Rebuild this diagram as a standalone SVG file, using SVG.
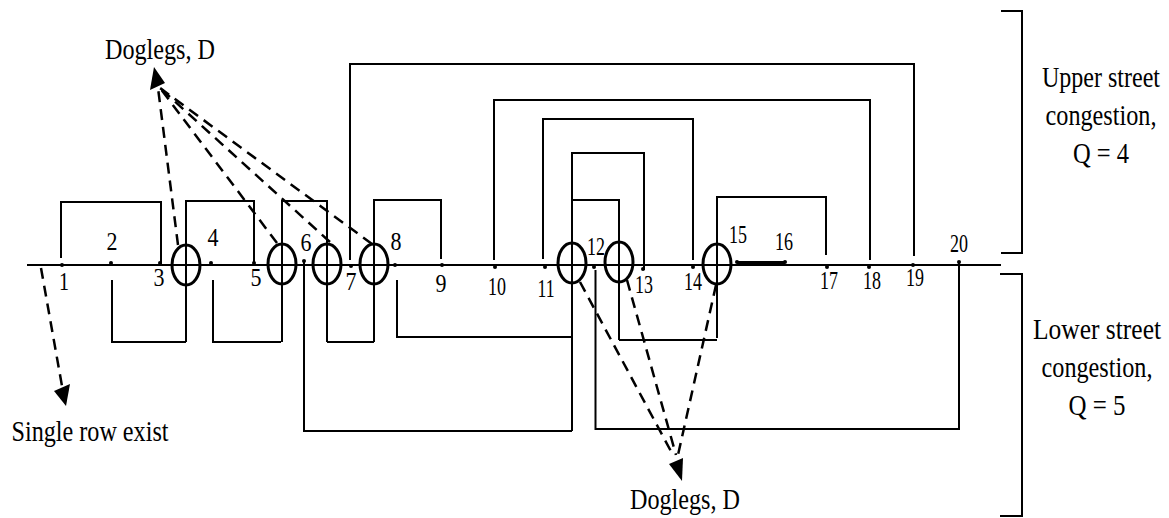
<svg xmlns="http://www.w3.org/2000/svg" width="1169" height="518" viewBox="0 0 1169 518">
<style>
.w{fill:none;stroke:#000;stroke-width:2}
.d{fill:none;stroke:#000;stroke-width:2.500;stroke-dasharray:11 7}
.c{fill:none;stroke:#000;stroke-width:3}
.p{fill:#000}
text{font-family:"Liberation Serif",serif;fill:#000}
.n{font-size:25px;text-anchor:middle}
.l{font-size:29px;text-anchor:middle}
</style>
<rect width="1169" height="518" fill="#fff"/>
<g id="connectors">
<path class="w" d="M27 265H1001"/>
<path class="w" d="M61 258V202H161V264M186 342V201H254V264M282 342V201H327V342M350 260V64H914V256M374 342V200H441V259M494 260V100H870V260M543 259V119H693V260M572 431V153H644V270M572 200H619V340M717 338V197H826V255"/>
<path class="w" d="M112 280V342H186M213 280V342H281M327 342H374M397 280V337H572M304 261V431H572M595.500 270V429H959V262M619 340H717"/>
<path d="M737 262.500H785" fill="none" stroke="#000" stroke-width="3"/>
<g class="p"><circle cx="62" cy="265" r="2"/><circle cx="111" cy="263" r="2"/><circle cx="160" cy="263" r="2"/><circle cx="211" cy="263" r="2"/><circle cx="254" cy="263" r="2"/><circle cx="304" cy="261" r="2"/><circle cx="351" cy="266" r="2"/><circle cx="395" cy="265" r="2"/><circle cx="442" cy="265" r="2"/><circle cx="495" cy="267" r="2"/><circle cx="545" cy="267" r="2"/><circle cx="594" cy="267" r="2"/><circle cx="643" cy="269" r="2"/><circle cx="693" cy="267" r="2"/><circle cx="737" cy="262" r="2"/><circle cx="785" cy="262" r="2"/><circle cx="827" cy="267" r="2"/><circle cx="869" cy="267" r="2"/><circle cx="913" cy="265" r="2"/><circle cx="959" cy="262" r="2"/></g>
<path class="d" d="M178 245L158 88"/><path class="d" d="M277 243L160 88"/><path class="d" d="M330 242L160 88"/><path class="d" d="M372 244L160 88"/>
<path class="d" d="M580 282L673 455"/><path class="d" d="M627 280L676 455"/><path class="d" d="M716 285L678 455"/>
<path class="d" d="M41 268L62 386"/>
<path class="p" d="M66 406L54 391L70 384Z"/><path class="p" d="M682 481L669 464L683 458Z"/><path class="p" d="M154 67L165 83L150 90Z"/>
<path class="w" d="M1001 11H1022V253H1001M1000 274H1022V516H1000"/>
</g>
<g id="doglegs">
<ellipse class="c" cx="186" cy="265" rx="14" ry="20"/><ellipse class="c" cx="282" cy="264" rx="14" ry="20"/><ellipse class="c" cx="327" cy="264" rx="14" ry="20"/><ellipse class="c" cx="374" cy="264" rx="14" ry="20"/><ellipse class="c" cx="572" cy="263" rx="14" ry="20"/><ellipse class="c" cx="619" cy="262" rx="14" ry="20"/><ellipse class="c" cx="717" cy="264" rx="14" ry="20"/>
</g>
<g id="labels">
<text class="n" x="64" y="290" textLength="10" lengthAdjust="spacingAndGlyphs">1</text><text class="n" x="112" y="250" textLength="11" lengthAdjust="spacingAndGlyphs">2</text><text class="n" x="159" y="286" textLength="11" lengthAdjust="spacingAndGlyphs">3</text><text class="n" x="213" y="246" textLength="11" lengthAdjust="spacingAndGlyphs">4</text><text class="n" x="256" y="286" textLength="11" lengthAdjust="spacingAndGlyphs">5</text><text class="n" x="306" y="251" textLength="11" lengthAdjust="spacingAndGlyphs">6</text><text class="n" x="351" y="290" textLength="11" lengthAdjust="spacingAndGlyphs">7</text><text class="n" x="396" y="250" textLength="11" lengthAdjust="spacingAndGlyphs">8</text><text class="n" x="441" y="292" textLength="11" lengthAdjust="spacingAndGlyphs">9</text><text class="n" x="497" y="295" textLength="18" lengthAdjust="spacingAndGlyphs">10</text><text class="n" x="546" y="297" textLength="17" lengthAdjust="spacingAndGlyphs">11</text><text class="n" x="596" y="255" textLength="18" lengthAdjust="spacingAndGlyphs">12</text><text class="n" x="644" y="293" textLength="18" lengthAdjust="spacingAndGlyphs">13</text><text class="n" x="693" y="290" textLength="18" lengthAdjust="spacingAndGlyphs">14</text><text class="n" x="738" y="243" textLength="18" lengthAdjust="spacingAndGlyphs">15</text><text class="n" x="784" y="250" textLength="18" lengthAdjust="spacingAndGlyphs">16</text><text class="n" x="829" y="289" textLength="18" lengthAdjust="spacingAndGlyphs">17</text><text class="n" x="872" y="289" textLength="18" lengthAdjust="spacingAndGlyphs">18</text><text class="n" x="915" y="286" textLength="18" lengthAdjust="spacingAndGlyphs">19</text><text class="n" x="959" y="252" textLength="18" lengthAdjust="spacingAndGlyphs">20</text>
<text class="l" x="160" y="59" textLength="110" lengthAdjust="spacingAndGlyphs">Doglegs, D</text><text class="l" x="685" y="509" textLength="110" lengthAdjust="spacingAndGlyphs">Doglegs, D</text><text class="l" x="90" y="441" textLength="157" lengthAdjust="spacingAndGlyphs">Single row exist</text>
<text class="l" transform="translate(1101 87) scale(.828 1)">Upper street</text><text class="l" transform="translate(1101 125) scale(.835 1)">congestion,</text><text class="l" transform="translate(1101 163) scale(.845 1)">Q = 4</text>
<text class="l" transform="translate(1097 339) scale(.879 1)">Lower street</text><text class="l" transform="translate(1097 377) scale(.835 1)">congestion,</text><text class="l" transform="translate(1097 415) scale(.86 1)">Q = 5</text>
</g>
</svg>
